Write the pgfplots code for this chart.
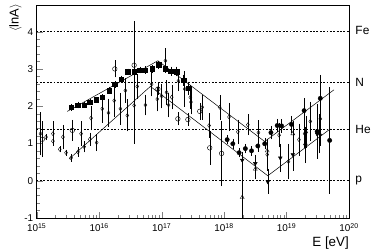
\documentclass[border=0pt]{standalone}
\usepackage{fontspec}
\setmainfont{Liberation Sans}
\usepackage{pgfplots}
\pgfplotsset{compat=1.18}

\pgfplotsset{
  eb/.style={error bars/.cd, y dir=both, y explicit,
    error mark options={mark size=1.1pt, line width=0.4pt},
    error bar style={line width=0.4pt}},
  lvl/.style={black, line width=0.5pt, dash pattern=on 1.8pt off 1.6pt},
}

\begin{document}
\begin{tikzpicture}
\begin{axis}[
  name=ax,
  scale only axis, width=315pt, height=214pt,
  xmode=log, xmin=1e15, xmax=1e20,
  ymin=-1, ymax=4.7,
  xtick={1e15,1e16,1e17,1e18,1e19,1e20},
  xticklabels={10\textsuperscript{15},10\textsuperscript{16},10\textsuperscript{17},
               10\textsuperscript{18},10\textsuperscript{19},10\textsuperscript{20}},
  ytick={-1,0,1,2,3,4},
  minor y tick num=4,
  tick align=inside, xtick pos=bottom, ytick pos=left,
  major tick length=6pt, minor tick length=3pt,
  /pgf/number format/assume math mode=true,
  tick label style={font=\fontsize{10}{11}\selectfont},
  xticklabel style={yshift=-2pt},
  axis line style={line width=0.6pt},
  xlabel={E [eV]},
  xlabel style={at={([yshift=-18.5pt]rel axis cs:1,0)}, anchor=north east,
                inner sep=0pt, font=\fontsize{13.5}{14}\selectfont},
  ylabel={$\langle$lnA$\rangle$},
  ylabel style={at={([xshift=-15pt,yshift=2pt]rel axis cs:0,1)}, anchor=south east,
                inner sep=0pt, font=\fontsize{13}{14}\selectfont},
  clip=false,
]
% reference levels p, He, N, Fe
\addplot[lvl] coordinates {(1e15,0) (1e20,0)};
\addplot[lvl] coordinates {(1e15,1.386) (1e20,1.386)};
\addplot[lvl] coordinates {(1e15,2.639) (1e20,2.639)};
\addplot[lvl] coordinates {(1e15,4.025) (1e20,4.025)};

% broken-line fits
\addplot[black, line width=0.5pt] coordinates
  {(3.09e15,1.86) (8.71e16,3.22) (4.47e18,1.05) (5.75e19,2.44)};
\addplot[black, line width=0.5pt] coordinates
  {(3.31e15,0.58) (6.61e16,2.53) (5.01e18,0.13) (5.01e19,1.39)};

% open diamonds
\addplot[only marks, mark=diamond, mark size=2pt, mark options={fill=white, line width=0.4pt}, eb]
coordinates {
  (1.15e15,1.26) +- (0,0.55)
  (1.41e15,1.17) +- (0,0.05)
  (1.82e15,1.26) +- (0,0.30)
  (1.82e15,1.06) +- (0,0.06)
  (2.34e15,0.84) +- (0,0.05)
  (2.63e15,1.17) +- (0,0.30)
  (2.95e15,0.75) +- (0,0.05)
  (3.55e15,0.61) +- (0,0.08)
  (4.57e15,0.77) +- (0,0.10)
  (5.13e15,1.26) +- (0,0.30)
  (5.75e15,0.91) +- (0,0.12)
  (7.08e15,1.11) +- (0,0.15)
  (7.41e15,1.68) +- (0,0.30)
  (9.12e15,1.02) +- (0,0.20)
  (1.12e16,1.93) +- (0,0.35)
  (1.41e16,1.82) +- (0,0.35)
  (1.74e16,2.15) +- (0,0.40)
  (2.19e16,1.93) +- (0,0.40)
  (2.63e16,2.42) +- (0,0.30)
  (2.82e16,1.75) +- (0,0.40)
  (3.63e16,2.02) +- (0,1.00)
  (4.07e16,2.53) +- (0,0.30)
  (5.50e16,2.03) +- (0,0.25)
  (6.92e16,2.59) +- (0,0.30)
  (8.51e16,2.19) +- (0,0.30)
  (1.00e17,2.27) +- (0,0.30)
  (1.15e17,3.22) +- (0,0.30)
  (1.20e17,2.37) +- (0,0.30)
  (1.29e17,2.03) +- (0,0.30)
  (1.45e17,2.24) +- (0,0.30)
  (1.86e17,2.68) +- (0,0.25)
  (2.34e17,2.46) +- (0,0.45)
  (2.88e17,2.24) +- (0,0.30)
  (2.95e17,2.11) +- (0,0.30)
  (4.47e17,1.97) +- (0,0.30)
  (5.75e17,1.48) +- (0,0.30)
  (8.51e17,1.97) +- (0,0.30)
  (1.20e18,1.71) +- (0,0.35)
  (1.66e18,1.31) +- (0,0.30)
  (2.40e18,1.50) +- (0,0.25)
  (3.55e18,1.29) +- (0,0.30)
  (4.90e18,0.70) +- (0,0.40)
  (7.59e18,1.22) +- (0,0.30)
  (1.07e19,0.51) +- (0,0.45)
  (1.58e19,1.10) +- (0,0.40)
  (1.95e19,1.26) +- (0,0.35)
  (2.40e19,1.59) +- (0,0.50)
  (3.47e19,1.66) +- (0,0.70)
};

% filled squares
\addplot[only marks, mark=square*, mark size=2.3pt, mark options={black}, eb]
coordinates {
  (3.55e15,1.97) +- (0,0.06)
  (4.57e15,2.03) +- (0,0.06)
  (5.75e15,2.03) +- (0,0.05)
  (7.08e15,2.11) +- (0,0.05)
  (8.91e15,2.17) +- (0,0.05)
  (1.12e16,2.24) +- (0,0.05)
  (1.45e16,2.42) +- (0,0.06)
  (1.78e16,2.59) +- (0,0.06)
  (2.24e16,2.73) +- (0,0.06)
  (2.88e16,2.92) +- (0,0.06)
  (3.63e16,2.92) +- (0,0.06)
  (4.47e16,2.97) +- (0,0.06)
  (5.50e16,2.97) +- (0,0.07)
  (7.08e16,3.00) +- (0,0.07)
  (8.91e16,3.11) +- (0,0.08)
  (1.15e17,3.00) +- (0,0.08)
  (1.41e17,2.94) +- (0,0.09)
  (1.74e17,2.93) +- (0,0.10)
  (2.24e17,2.70) +- (0,0.12)
  (2.69e17,2.48) +- (0,0.14)
};

% open circles
\addplot[only marks, mark=o, mark size=2.3pt, mark options={fill=white, line width=0.45pt}, eb]
coordinates {
  (1.23e15,1.11) +- (0,0.45)
  (3.72e15,1.35) +- (0,0.25)
  (1.78e16,3.00) +- (0,0.20)
  (3.63e16,3.10) += (0,1.15) -= (0,0.30)
  (8.71e16,2.46) +- (0,0.12)
  (1.82e17,1.66) +- (0,0.15)
  (2.63e17,1.64) +- (0,0.15)
  (4.07e17,1.86) +- (0,0.20)
  (5.89e17,0.88) +- (0,0.42)
  (9.12e17,0.73) +- (0,0.85)
};

% filled circles
\addplot[only marks, mark=*, mark size=2.2pt, mark options={black}, eb]
coordinates {
  (1.12e18,1.10) +- (0,0.10)
  (1.38e18,0.99) +- (0,0.10)
  (1.74e18,0.75) +- (0,0.10)
  (2.19e18,0.86) +- (0,0.10)
  (2.75e18,0.80) +- (0,0.10)
  (3.47e18,0.93) +- (0,0.12)
  (4.47e18,0.99) +- (0,0.12)
  (5.62e18,1.29) +- (0,0.15)
  (7.08e18,1.48) +- (0,0.15)
  (8.32e18,1.47) +- (0,0.15)
  (1.20e19,1.51) +- (0,0.20)
  (1.91e19,1.88) +- (0,0.30)
  (3.09e19,1.32) +- (0,0.70)
  (3.47e19,2.21) +- (0,0.60)
  (4.90e19,1.08) +- (0,1.40)
};

% filled down triangles
\addplot[only marks, mark=triangle*, mark size=2.2pt, mark options={black, rotate=180}, eb]
coordinates {
  (1.95e18,0.55) +- (0,0.15)
  (3.16e18,0.46) +- (0,0.20)
  (5.01e18,-0.03) +- (0,0.30)
  (7.94e18,0.61) +- (0,0.35)
  (1.26e19,0.70) +- (0,0.40)
  (2.00e19,0.95) +- (0,0.45)
  (3.09e19,1.25) +- (0,0.50)
};

% open triangles
\addplot[only marks, mark=triangle, mark size=2.3pt, mark options={fill=white, line width=0.4pt}, eb]
coordinates {
  (1.95e18,-0.45) += (0,1.20) -= (0,0.55)
  (3.16e18,0.31) +- (0,0.25)
  (4.90e18,0.80) +- (0,0.30)
  (1.26e19,1.26) +- (0,0.30)
  (2.04e19,1.31) +- (0,0.40)
  (3.39e19,1.26) +- (0,0.50)
};

\node[anchor=west, font=\fontsize{12}{13}\selectfont] at ([xshift=3pt]axis cs:1e20,4.025) {Fe};
\node[anchor=west, font=\fontsize{12}{13}\selectfont] at ([xshift=3pt]axis cs:1e20,2.639) {N};
\node[anchor=west, font=\fontsize{12}{13}\selectfont] at ([xshift=3pt]axis cs:1e20,1.386) {He};
\node[anchor=west, font=\fontsize{12}{13}\selectfont] at ([xshift=3pt]axis cs:1e20,0) {p};
\end{axis}
\path ([shift={(-37pt,5.7pt)}]ax.north west) rectangle ([shift={(22pt,-33.5pt)}]ax.south east);
\end{tikzpicture}
\end{document}
